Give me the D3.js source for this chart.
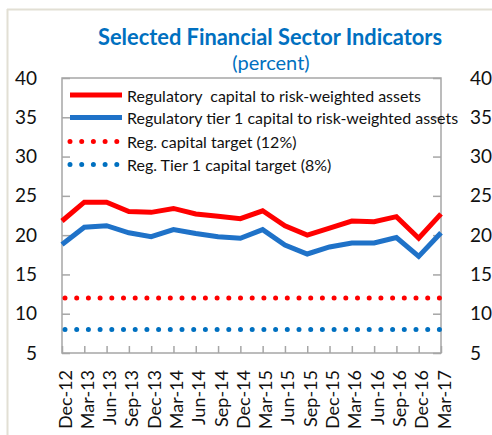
<!DOCTYPE html>
<html><head><meta charset="utf-8">
<script src="https://cdn.jsdelivr.net/npm/d3@7"></script>
<style>body{margin:0;background:#fff}svg{display:block}text{font-family:Lato,"Open Sans",sans-serif}</style>
</head><body>
<svg id="c" width="492" height="435"></svg>
<script>
const categories = ["Dec-12","Mar-13","Jun-13","Sep-13","Dec-13","Mar-14","Jun-14","Sep-14","Dec-14","Mar-15","Jun-15","Sep-15","Dec-15","Mar-16","Jun-16","Sep-16","Dec-16","Mar-17"];
const regCapital = [21.8,24.2,24.2,23.0,22.9,23.4,22.7,22.4,22.1,23.1,21.2,20.0,20.9,21.8,21.7,22.35,19.6,22.7];
const tier1Capital = [18.8,21.0,21.2,20.3,19.8,20.7,20.2,19.8,19.6,20.7,18.75,17.6,18.5,19.0,19.0,19.7,17.3,20.3];
const regTarget = 12;
const tier1Target = 8;
const yTicks = [5,10,15,20,25,30,35,40];
const seriesNames = ["Regulatory  capital to risk-weighted assets","Regulatory tier 1 capital to risk-weighted assets","Reg. capital target (12%)","Reg. Tier 1 capital target (8%)"];
const titleText = "Selected Financial Sector Indicators";
const subtitleText = "(percent)";

const svg = d3.select("#c");
const L = 62, R = 441, T = 78, B = 353;
const x = d3.scalePoint().domain(categories).range([L, R]);
const y = d3.scaleLinear().domain([5, 40]).range([B, T]);
const RED = "#ff0000", BLUE = "#1f72c8", DOTBLUE = "#0070c0", AX = "#a6a6a6";

// outer frame
svg.append("line").attr("x1",7).attr("x2",492).attr("y1",9.5).attr("y2",9.5).attr("stroke","#e2dfd4").attr("stroke-width",2);
svg.append("line").attr("x1",7.5).attr("x2",7.5).attr("y1",9).attr("y2",435).attr("stroke","#e2dfd4").attr("stroke-width",2);

// title
const t1 = svg.append("text").attr("x",270).attr("y",45).attr("text-anchor","middle").attr("font-weight","bold").attr("font-size",19.5).attr("fill","#0070c0").text(titleText);
const w1 = t1.node().getComputedTextLength();
t1.attr("font-size", 19.5*Math.min(1.12, 347/w1));
svg.append("text").attr("x",271).attr("y",70).attr("text-anchor","middle").attr("font-size",20).attr("fill","#0070c0").text(subtitleText);

// plot frame
svg.append("rect").attr("x",L).attr("y",T).attr("width",R-L).attr("height",B-T).attr("fill","none").attr("stroke",AX).attr("stroke-width",1.5);

// axes
const yl = svg.append("g").attr("transform",`translate(${L},0)`).call(d3.axisLeft(y).tickValues(yTicks).tickSize(-8).tickPadding(25).tickFormat(d3.format("d")));
const yr = svg.append("g").attr("transform",`translate(${R},0)`).call(d3.axisRight(y).tickValues(yTicks).tickSize(-8).tickPadding(29).tickFormat(d3.format("d")));
const xb = svg.append("g").attr("transform",`translate(0,${B})`).call(d3.axisBottom(x).tickSize(-7).tickPadding(0));
[yl,yr,xb].forEach(g=>{g.select(".domain").remove();g.selectAll(".tick line").attr("stroke",AX).attr("stroke-width",1.5);});
yl.selectAll("text").attr("font-size",19).attr("fill","#111");
yr.selectAll("text").attr("font-size",19).attr("fill","#111");
xb.selectAll("text").attr("font-size",18).attr("fill","#111").attr("text-anchor","end").attr("dy",null)
  .attr("dominant-baseline","central").attr("transform","translate(2,17) rotate(-90)").attr("y",0).attr("x",0);

// target dotted lines
function dotted(v,color){
  svg.append("line").attr("x1",x(categories[0])+3).attr("x2",x(categories[categories.length-1])+2).attr("y1",y(v)).attr("y2",y(v))
    .attr("stroke",color).attr("stroke-width",5).attr("stroke-linecap","round").attr("stroke-dasharray","0 11.7");
}
dotted(regTarget, RED);
dotted(tier1Target, DOTBLUE);

// series lines
const line = d3.line().x((d,i)=>x(categories[i])).y(d=>y(d));
svg.append("path").datum(tier1Capital).attr("d",line).attr("fill","none").attr("stroke",BLUE).attr("stroke-width",5).attr("stroke-linejoin","miter");
svg.append("path").datum(regCapital).attr("d",line).attr("fill","none").attr("stroke",RED).attr("stroke-width",5).attr("stroke-linejoin","miter");

// legend
const legY = [95,117.5,141.5,164.5];
const leg = svg.append("g");
const legTexts = [];
seriesNames.forEach((n,i)=>{
  const yy = legY[i];
  if(i<2){
    leg.append("line").attr("x1",70).attr("x2",122).attr("y1",yy).attr("y2",yy).attr("stroke",i==0?RED:BLUE).attr("stroke-width",5);
  } else {
    leg.append("line").attr("x1",70).attr("x2",122).attr("y1",yy).attr("y2",yy).attr("stroke",i==2?RED:DOTBLUE)
      .attr("stroke-width",5).attr("stroke-linecap","round").attr("stroke-dasharray","0 11.7");
  }
  legTexts.push(leg.append("text").attr("x",127).attr("y",yy).attr("dominant-baseline","central").attr("font-size",14).attr("fill","#111").attr("xml:space","preserve").text(n));
});
const lw = legTexts[0].node().getComputedTextLength();
const lfs = 14*Math.min(1.15, 294/lw);
legTexts.forEach(t=>t.attr("font-size", lfs));
</script>
</body></html>
